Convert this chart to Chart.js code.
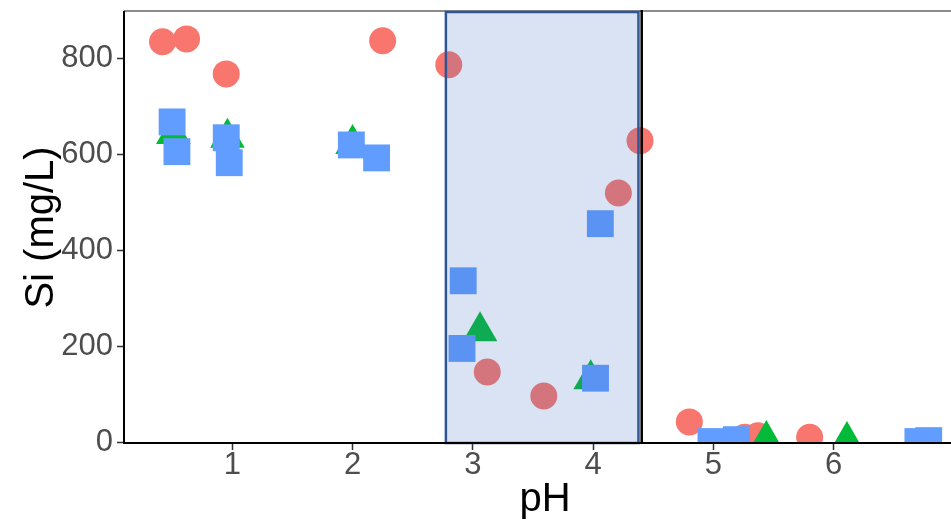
<!DOCTYPE html>
<html>
<head>
<meta charset="utf-8">
<title>Si vs pH</title>
<script src="https://cdn.jsdelivr.net/npm/chart.js@4.4.0/dist/chart.umd.min.js"></script>
<style>
  html, body { margin: 0; padding: 0; background: #fff; overflow: hidden; }
  #wrap { width: 951px; height: 524px; overflow: hidden; }
  #wrap canvas { display: block; }
</style>
</head>
<body>
<div id="wrap"><canvas id="siChart" width="966" height="524"></canvas></div>
<script>
// measured Si (mg/L) against pH, three series
const circlePH = [0.42, 0.62, 0.95, 2.25, 2.80, 4.39, 4.21, 3.12, 3.59, 4.80, 5.26, 5.37, 5.80];
const circleSi = [834, 840, 767, 836, 786, 628, 519, 146, 96, 42, 10, 13, 10];

const trianglePH = [0.51, 0.96, 2.00, 3.06, 3.98, 5.44, 6.11];
const triangleSi = [642, 634, 621, 231, 131, 4, 2];

const squarePH = [0.50, 0.54, 0.95, 0.975, 1.99, 2.20, 2.92, 2.91, 4.06, 4.02, 4.98, 5.19, 6.70, 6.79];
const squareSi = [667, 605, 634, 582, 619, 592, 336, 195, 455, 133, 1, 5, 1, 3];

const xTicks = [1, 2, 3, 4, 5, 6];
const yTicks = [0, 200, 400, 600, 800];

// shaded pH window and the cut-off line
const bandPH = [2.776, 4.377];
const cutoffPH = 4.404;

const FONT = "'Liberation Sans', Arial, Helvetica, sans-serif";

function pts(xs, ys) {
  return xs.map((x, i) => ({ x: x, y: ys[i] }));
}

const bandPlugin = {
  id: 'band',
  beforeDatasetsDraw(chart) {
    const { ctx, chartArea: a } = chart;
    ctx.save();
    ctx.strokeStyle = '#8c8c8c';
    ctx.lineWidth = 2;
    ctx.beginPath();
    ctx.moveTo(a.left, a.top - 1);
    ctx.lineTo(a.right, a.top - 1);
    ctx.stroke();
    ctx.restore();
  },
  afterDatasetsDraw(chart) {
    const { ctx, chartArea: a, scales } = chart;
    const x0 = scales.x.getPixelForValue(bandPH[0]);
    const x1 = scales.x.getPixelForValue(bandPH[1]);
    ctx.save();
    ctx.fillStyle = 'rgba(68,114,196,0.2)';
    ctx.fillRect(x0, a.top, x1 - x0, a.bottom - a.top);
    ctx.strokeStyle = '#2f5597';
    ctx.lineWidth = 2.5;
    ctx.strokeRect(x0, a.top, x1 - x0, a.bottom - a.top);
    const xc = scales.x.getPixelForValue(cutoffPH);
    ctx.strokeStyle = '#000';
    ctx.lineWidth = 2.5;
    ctx.beginPath();
    ctx.moveTo(xc, a.top - 2);
    ctx.lineTo(xc, a.bottom);
    ctx.stroke();
    ctx.restore();
  }
};

const ctx = document.getElementById('siChart').getContext('2d');
new Chart(ctx, {
  type: 'scatter',
  data: {
    datasets: [
      {
        label: 'squares',
        data: pts(squarePH, squareSi),
        pointStyle: 'rect',
        pointRadius: 19,
        borderWidth: 0,
        backgroundColor: '#619CFF',
        clip: 0,
        order: 1
      },
      {
        label: 'triangles',
        data: pts(trianglePH, triangleSi),
        pointStyle: 'triangle',
        pointRadius: 20,
        borderWidth: 0,
        backgroundColor: '#00BA38',
        clip: 0,
        order: 2
      },
      {
        label: 'circles',
        data: pts(circlePH, circleSi),
        pointStyle: 'circle',
        pointRadius: 13.5,
        borderWidth: 0,
        backgroundColor: '#F8766D',
        clip: 0,
        order: 3
      }
    ]
  },
  options: {
    responsive: false,
    animation: false,
    devicePixelRatio: 1,
    layout: { autoPadding: false, padding: { top: 12, right: 0, bottom: 0, left: 0 } },
    plugins: {
      legend: { display: false },
      tooltip: { enabled: false }
    },
    scales: {
      x: {
        type: 'linear',
        min: 0.10,
        max: 7.10,
        afterBuildTicks: s => { s.ticks = xTicks.map(v => ({ value: v })); },
        afterFit: s => { s.height = 81; s.paddingLeft = 0; s.paddingRight = 0; },
        grid: { display: true, drawOnChartArea: false, drawTicks: true, tickLength: 7, tickWidth: 1.5, tickColor: '#333' },
        border: { display: true, color: '#000', width: 2, z: 1 },
        ticks: { color: '#4d4d4d', font: { family: FONT, size: 31 }, padding: -3, maxRotation: 0 },
        title: { display: true, text: 'pH', color: '#000', font: { family: FONT, size: 40 }, padding: { top: 0, bottom: 0 } }
      },
      y: {
        type: 'linear',
        min: -2,
        max: 896,
        afterBuildTicks: s => { s.ticks = yTicks.map(v => ({ value: v })); },
        afterFit: s => { s.width = 124; s.paddingTop = 0; s.paddingBottom = 0; },
        grid: { display: true, drawOnChartArea: false, drawTicks: true, tickLength: 7, tickWidth: 1.5, tickColor: '#333' },
        border: { display: true, color: '#000', width: 2, z: 1 },
        ticks: { color: '#4d4d4d', font: { family: FONT, size: 31 }, padding: 4 },
        title: { display: true, text: 'Si (mg/L)', color: '#000', font: { family: FONT, size: 40 }, padding: { top: 18, bottom: 0 } }
      }
    }
  },
  plugins: [bandPlugin]
});
</script>
</body>
</html>
